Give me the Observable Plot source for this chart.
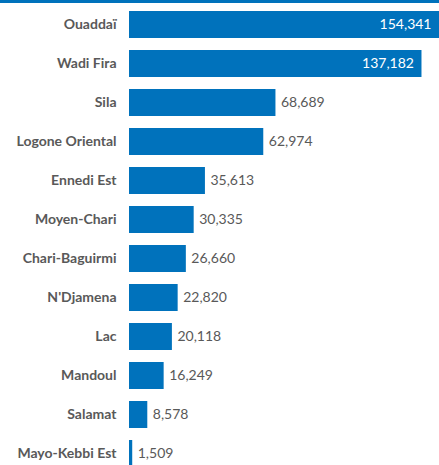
<!DOCTYPE html>
<html>
<head>
<meta charset="utf-8">
<script src="https://cdn.jsdelivr.net/npm/d3@7"></script>
<script src="https://cdn.jsdelivr.net/npm/@observablehq/plot@0.6"></script>
<style>
  html, body { margin: 0; padding: 0; background: #fff; overflow: hidden; width: 439px; height: 465px; }
  #topband { height: 3px; background: #0072BC; width: 439px; }
  #chart svg { display: block; overflow: hidden; }
</style>
</head>
<body>
<div id="topband"></div>
<div id="chart"></div>
<script>
const regions = ["Ouaddaï", "Wadi Fira", "Sila", "Logone Oriental", "Ennedi Est", "Moyen-Chari",
  "Chari-Baguirmi", "N'Djamena", "Lac", "Mandoul", "Salamat", "Mayo-Kebbi Est"];
const values = [154341, 137182, 68689, 62974, 35613, 30335, 26660, 22820, 20118, 16249, 8578, 1509];

const data = regions.map((r, i) => ({region: r, value: values[i]}));
const xMax = 145400;
const fmt = d3.format(",");
const inside = d => d.value > 100000;
const font = "Lato, 'Open Sans', sans-serif";

const chart = Plot.plot({
  width: 439,
  height: 472,
  marginLeft: 129,
  marginRight: 0,
  marginTop: 0,
  marginBottom: 0,
  style: {fontFamily: font, fontSize: "14px", color: "#555", background: "#fff", overflow: "hidden"},
  x: {domain: [0, xMax], axis: null},
  y: {domain: regions, paddingInner: 0.3, paddingOuter: 0.135, label: null},
  marks: [
    Plot.axisY({tickSize: 0, tickPadding: 13, fontWeight: "bold", fontSize: 14, fill: "#595959", fontFamily: font}),
    Plot.barX(data, {x: d => Math.min(d.value, xMax * 1.2), y: "region", fill: "#0072BC"}),
    Plot.text(data.filter(inside), {
      x: d => Math.min(d.value, xMax), y: "region", text: d => fmt(d.value),
      textAnchor: "end", dx: -8, fill: "white", fontSize: 14, fontFamily: font
    }),
    Plot.text(data.filter(d => !inside(d)), {
      x: "value", y: "region", text: d => fmt(d.value),
      textAnchor: "start", dx: 5, fill: "#595959", fontSize: 14, fontFamily: font
    })
  ]
});
document.getElementById("chart").appendChild(chart);
</script>
</body>
</html>
